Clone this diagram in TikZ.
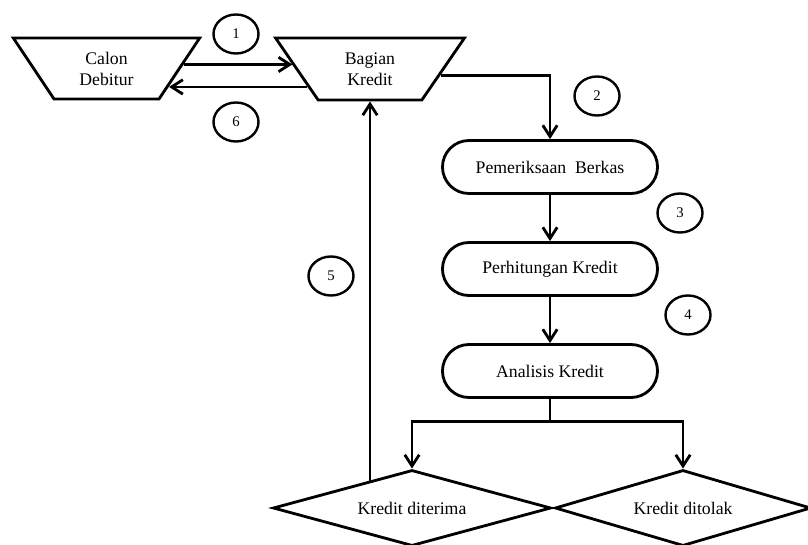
\documentclass[tikz,border=0pt]{standalone}
\usepackage{fontspec}
\setmainfont{Liberation Serif}
\usepackage{tikz}
\usetikzlibrary{shapes.geometric}
\usetikzlibrary{shapes.misc}
\usetikzlibrary{arrows.meta}
\tikzset{
  garis/.style={line width=2pt},
  panah/.style={garis,-{Straight Barb[length=2.8mm,width=3.6mm,line width=2pt]}},
  entitas/.style={garis,draw,trapezium,shape border rotate=180,
    trapezium left angle=58,trapezium right angle=58,trapezium stretches=true,
    align=center,inner sep=0pt,font=\fontsize{12.6}{15}\selectfont},
  proses/.style={garis,draw,rounded rectangle,minimum width=5.375cm,
    minimum height=1.325cm,inner sep=0pt,font=\fontsize{12.6}{14}\selectfont},
  keputusan/.style={garis,draw,diamond,aspect=3.6,minimum height=1.9cm,
    inner sep=0pt,font=\fontsize{12.6}{14}\selectfont},
  lingkar/.style={draw,line width=1.7pt,ellipse,minimum width=1.125cm,
    minimum height=0.975cm,inner sep=0pt,font=\fontsize{10.5}{12}\selectfont}
}
\begin{document}
\begin{tikzpicture}[x=0.025cm,y=-0.025cm]
    \useasboundingbox (0,0) rectangle (808,545);
    % pihak yang terlibat
    \node[entitas,minimum width=4.675cm,minimum height=1.525cm] (calon)
      at (106.5,68.5) {Calon\\Debitur};
    \node[entitas,minimum width=4.75cm,minimum height=1.55cm] (bagian)
      at (370,69) {Bagian\\Kredit};
    % tahapan proses
    \node[proses] (periksa) at (550,167) {Pemeriksaan\ \ Berkas};
    \node[proses] (hitung) at (550,269) {Perhitungan Kredit};
    \node[proses] (analisis) at (550,371) {Analisis Kredit};
    \node[keputusan,minimum width=6.95cm] (terima) at (412,508) {Kredit diterima};
    \node[keputusan,minimum width=6.4cm] (tolak) at (683,508) {Kredit ditolak};
    %
    \node[lingkar] (n1) at (236,34) {1};
    \node[lingkar] (n2) at (597,96) {2};
    \node[lingkar] (n3) at (680,213) {3};
    \node[lingkar] (n4) at (688,315) {4};
    \node[lingkar] (n5) at (331,276) {5};
    \node[lingkar] (n6) at (236,122) {6};
    %
    \draw[panah] (calon.3) -- (calon.3 -| bagian.177);
    \draw[panah] (bagian.196) -- (bagian.196 -| calon.-16);
    \draw[panah] (bagian.-5) -| (periksa.north);
    \draw[panah] (periksa.south) -- (hitung.north);
    \draw[panah] (hitung.south) -- (analisis.north);
    \draw[garis] (analisis.south) -- ++(0,22.5) coordinate (cabang);
    \draw[panah] (cabang) -| (terima.north);
    \draw[panah] (cabang) -| (tolak.north);
    \draw[panah] (bagian.south |- terima.148) -- (bagian.south);
  \end{tikzpicture}
\end{document}
